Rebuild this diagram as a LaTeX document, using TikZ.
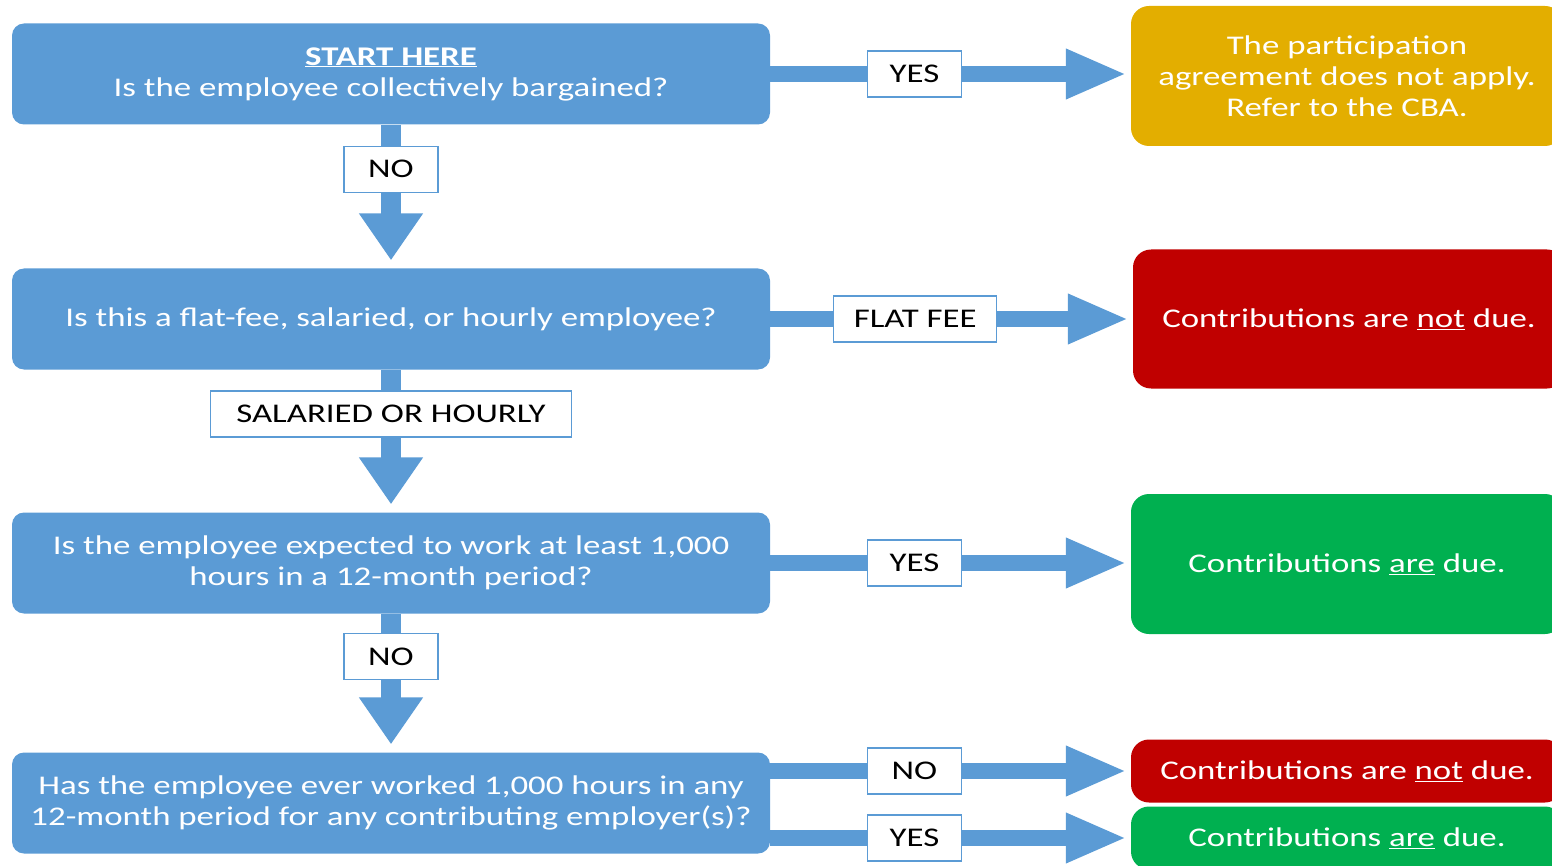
\documentclass[tikz,border=0pt]{standalone}
\usepackage{fontspec}
\setmainfont{Carlito}[FakeStretch=1.29]
\usetikzlibrary{arrows.meta,positioning}

\definecolor{qblue}{HTML}{5B9BD5}
\definecolor{cbagold}{HTML}{E3AE00}
\definecolor{duered}{HTML}{C00000}
\definecolor{duegreen}{HTML}{00B050}

\tikzset{
  question/.style={fill=qblue, rounded corners=12pt, text=white, align=center,
    minimum width=758pt, minimum height=101pt, inner sep=0pt},
  answer/.style={rounded corners=18pt, text=white, align=center,
    minimum width=432pt, inner sep=0pt},
  lbl/.style={draw=qblue, line width=1.2pt, fill=white, text=black,
    minimum height=46pt, minimum width=94pt, inner ysep=0pt, inner xsep=20pt},
  down/.style={qblue, line width=20pt, -{Triangle[length=47pt,width=61pt]}, shorten >=8pt},
  across/.style={qblue, line width=16pt, -{Triangle[length=61pt,width=46pt]}, shorten >=4pt},
}

\begin{document}
\begin{tikzpicture}[x=1pt,y=-1pt,font=\fontsize{27}{31}\selectfont]
\useasboundingbox (0,0) rectangle (1552,866);
\clip (0,0) rectangle (1552,866);

% questions
\node[question] (q1) at (391,74) {\underline{\textbf{START HERE}}\\Is the employee collectively bargained?};
\node[question] (q2) at (391,319) {Is this a flat-fee, salaried, or hourly employee?};
\node[question] (q3) at (391,563) {Is the employee expected to work at least 1,000\\hours in a 12-month period?};
\node[question] (q4) at (391,803) {Has the employee ever worked 1,000 hours in any\\12-month period for any contributing employer(s)?};

% answers
\node[answer, fill=cbagold, minimum height=140pt] (a1) at (1347,76) {The participation\\agreement does not apply.\\Refer to the CBA.};
\node[answer, fill=duered, minimum height=139pt] (a2) at (1349,319) {Contributions are \underline{not} due.};
\node[answer, fill=duegreen, minimum height=140pt] (a3) at (1347,564) {Contributions \underline{are} due.};
\node[answer, fill=duered, minimum height=63pt] (a4) at (1347,771) {Contributions are \underline{not} due.};
\node[answer, fill=duegreen, minimum height=63pt] (a5) at (1347,838) {Contributions \underline{are} due.};

% connectors
\draw[down] (q1.south) -- (q2.north) node[lbl, pos=0.31] (n1) {NO};
\draw[down] (q2.south) -- (q3.north) node[lbl, pos=0.31, inner xsep=26pt] (n2) {SALARIED OR HOURLY};
\draw[down] (q3.south) -- (q4.north) node[lbl, pos=0.31] (n3) {NO};

\draw[across] (q1.east) -- (q1.east -| a1.west) node[lbl, pos=0.40] (y1) {YES};
\draw[across] (q2.east) -- (q2.east -| a2.west) node[lbl, pos=0.40] (f1) {FLAT FEE};
\draw[across] (q3.east) -- (q3.east -| a3.west) node[lbl, pos=0.40] (y2) {YES};
\draw[across] (q4.east |- a4.west) -- (a4.west) node[lbl, pos=0.40] (n4) {NO};
\draw[across] (q4.east |- a5.west) -- (a5.west) node[lbl, pos=0.40] (y3) {YES};
\end{tikzpicture}
\end{document}
